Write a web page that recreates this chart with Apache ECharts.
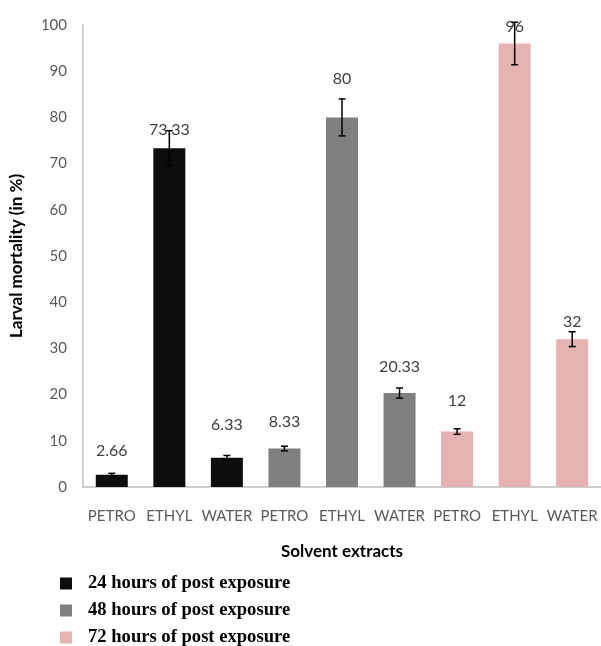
<!DOCTYPE html>
<html>
<head>
<meta charset="utf-8">
<script src="https://cdn.jsdelivr.net/npm/echarts@6/dist/echarts.min.js"></script>
<style>
html,body{margin:0;padding:0;background:#fff;}
#chart{width:601px;height:646px;}
</style>
</head>
<body>
<div id="chart"></div>
<script>
var categories = ['PETRO','ETHYL','WATER','PETRO','ETHYL','WATER','PETRO','ETHYL','WATER'];
var seriesNames = ['24 hours of post exposure','48 hours of post exposure','72 hours of post exposure'];
var values24 = [2.66, 73.33, 6.33, '-', '-', '-', '-', '-', '-'];
var values48 = ['-', '-', '-', 8.33, 80, 20.33, '-', '-', '-'];
var values72 = ['-', '-', '-', '-', '-', '-', 12, 96, 32];
var errors24 = [0.3, 3.8, 0.5, '-', '-', '-', '-', '-', '-'];
var errors48 = ['-', '-', '-', 0.5, 4.0, 1.1, '-', '-', '-'];
var errors72 = ['-', '-', '-', '-', '-', '-', 0.6, 4.6, 1.6];
var yTicks = [0, 10, 20, 30, 40, 50, 60, 70, 80, 90, 100];

// styling (label lift above bar top, in px)
var labelDistance = [16, 10, 25, 18.5, 31, 18, 22.6, 8.5, 9];
var colors = ['#0d0d0d', '#7f7f7f', '#e6b2b2'];
var legendTops = [574, 601, 628];

var allValues = [values24, values48, values72];
var allErrors = [errors24, errors48, errors72];

function barData(vals) {
  return vals.map(function (v, i) {
    if (v === '-') return '-';
    return { value: v, label: { distance: labelDistance[i] } };
  });
}
function errData(vals, errs) {
  var out = [];
  vals.forEach(function (v, i) {
    if (v !== '-') out.push([i, v, errs[i]]);
  });
  return out;
}
function renderErr(params, api) {
  var x = api.value(0), v = api.value(1), e = api.value(2);
  var top = api.coord([x, v + e]);
  var bot = api.coord([x, v - e]);
  var hw = 3.5;
  var st = { stroke: '#000', lineWidth: 1.5 };
  return {
    type: 'group',
    children: [
      { type: 'line', shape: { x1: top[0], y1: top[1], x2: bot[0], y2: bot[1] }, style: st },
      { type: 'line', shape: { x1: top[0] - hw, y1: top[1], x2: top[0] + hw, y2: top[1] }, style: st },
      { type: 'line', shape: { x1: bot[0] - hw, y1: bot[1], x2: bot[0] + hw, y2: bot[1] }, style: st }
    ]
  };
}

var series = [];
for (var k = 0; k < 3; k++) {
  series.push({
    name: seriesNames[k],
    type: 'bar',
    barWidth: 32,
    barGap: '-100%',
    itemStyle: { color: colors[k] },
    label: {
      show: true,
      position: 'top',
      color: '#404040',
      fontFamily: 'Lato',
      fontSize: 16
    },
    data: barData(allValues[k])
  });
}
for (var k2 = 0; k2 < 3; k2++) {
  series.push({
    type: 'custom',
    renderItem: renderErr,
    encode: { x: 0, y: 1 },
    z: 5,
    silent: true,
    data: errData(allValues[k2], allErrors[k2])
  });
}

var legends = seriesNames.map(function (n, i) {
  return {
    data: [n],
    orient: 'horizontal',
    left: 60,
    top: legendTops[i],
    padding: 0,
    icon: 'rect',
    itemWidth: 12,
    itemHeight: 12,
    textStyle: { fontFamily: 'Liberation Serif', fontWeight: 'bold', fontSize: 18.6, color: '#000', padding: [0, 0, 0, 11] }
  };
});

var chart = echarts.init(document.getElementById('chart'), null, { renderer: 'canvas' });
chart.setOption({
  animation: false,
  backgroundColor: '#fff',
  grid: { left: 83, right: 0, top: 25, bottom: 159, containLabel: false },
  legend: legends,
  xAxis: {
    type: 'category',
    data: categories,
    axisLine: { lineStyle: { color: '#bfbfbf', width: 1.5 } },
    axisTick: { show: false },
    axisLabel: { color: '#595959', fontFamily: 'Lato', fontSize: 15, margin: 22, interval: 0 },
    name: 'Solvent extracts',
    nameLocation: 'middle',
    nameGap: 56,
    nameTextStyle: { fontFamily: 'Lato', fontWeight: 'bold', fontSize: 17, color: '#000' }
  },
  yAxis: {
    type: 'value',
    min: yTicks[0],
    max: yTicks[yTicks.length - 1],
    interval: 10,
    axisLine: { show: true, lineStyle: { color: '#bfbfbf', width: 1.5 } },
    axisTick: { show: false },
    splitLine: { show: false },
    axisLabel: { color: '#595959', fontFamily: 'Lato', fontSize: 15, margin: 16 },
    name: 'Larval mortality (in %)',
    nameLocation: 'middle',
    nameGap: 58,
    nameTextStyle: { fontFamily: 'Lato', fontWeight: 'bold', fontSize: 17, color: '#000', padding: [0, 0, 0, 0] }
  },
  series: series
});
</script>
</body>
</html>
